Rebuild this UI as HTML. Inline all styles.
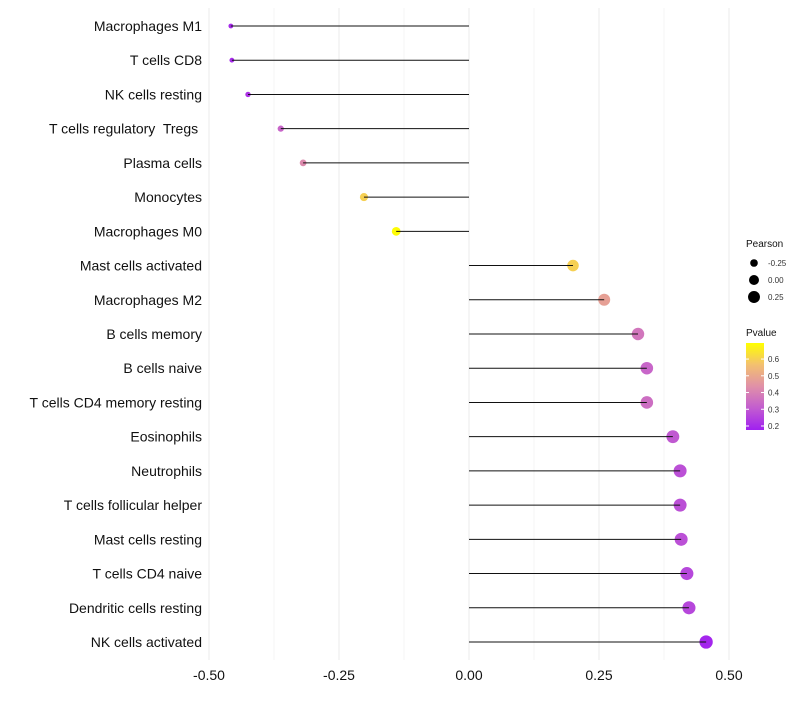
<!DOCTYPE html>
<html><head><meta charset="utf-8"><style>
body{margin:0;background:#fff;font-family:"Liberation Sans",sans-serif}
svg text{font-family:"Liberation Sans",sans-serif;white-space:pre}
</style></head><body>
<svg id="chart" width="800" height="700"></svg>
<script>
const categories=["Macrophages M1","T cells CD8","NK cells resting","T cells regulatory  Tregs ","Plasma cells","Monocytes","Macrophages M0","Mast cells activated","Macrophages M2","B cells memory","B cells naive","T cells CD4 memory resting","Eosinophils","Neutrophils","T cells follicular helper","Mast cells resting","T cells CD4 naive","Dendritic cells resting","NK cells activated"];
const pearson=[-0.458,-0.456,-0.425,-0.362,-0.319,-0.202,-0.140,0.200,0.260,0.325,0.342,0.342,0.392,0.406,0.406,0.408,0.419,0.423,0.456];
const pvalue=[0.2,0.2,0.22,0.33,0.42,0.6,0.69,0.6,0.48,0.37,0.33,0.35,0.3,0.28,0.28,0.28,0.26,0.26,0.19];
const xTicks=[-0.5,-0.25,0,0.25,0.5];
const xTickLabels=["-0.50","-0.25","0.00","0.25","0.50"];
const sizeLegend=[-0.25,0,0.25];
const pLegend=[0.2,0.3,0.4,0.5,0.6];

const NS="http://www.w3.org/2000/svg";
const svg=document.getElementById('chart');
function el(t,a,p){const e=document.createElementNS(NS,t);for(const k in a)e.setAttribute(k,a[k]);(p||svg).appendChild(e);return e;}
const x=v=>469+v*520;
const y=i=>26+i*(642-26)/(categories.length-1);
const r=v=>Math.sqrt(Math.max(1,25+42*v));
const stops=[[0,[160,32,240]],[0.25,[194,92,208]],[0.5,[224,144,168]],[0.75,[243,192,112]],[1,[255,255,0]]];
function col(p){let t=(p-0.176)/(0.696-0.176);t=Math.max(0,Math.min(1,t));
 for(let i=1;i<stops.length;i++){if(t<=stops[i][0]){const a=stops[i-1],b=stops[i];const f=(t-a[0])/(b[0]-a[0]);
 return 'rgb('+a[1].map((c,j)=>Math.round(c+(b[1][j]-c)*f)).join(',')+')';}}return 'rgb(255,255,0)';}

for(let v=-0.5;v<=0.5001;v+=0.125){const g=el('line',{x1:x(v),x2:x(v),y1:8,y2:660,stroke:'#ebebeb','stroke-width':Math.abs((v*4)%1)<0.01?1:0.5});

}
xTicks.forEach((v,i)=>{const t=el('text',{x:x(v),y:680,'text-anchor':'middle','font-size':14,fill:'#111'});t.textContent=xTickLabels[i];

});

categories.forEach((c,i)=>{
 const t=el('text',{x:202,y:y(i)+5,'text-anchor':'end','font-size':14,fill:'#111','xml:space':'preserve'});t.textContent=c;
 
 
 const pt=el('circle',{cx:x(pearson[i]),cy:y(i),r:r(pearson[i]),fill:col(pvalue[i])});
 
 
 const ln=el('line',{x1:x(0),x2:x(pearson[i]),y1:y(i),y2:y(i),stroke:'#111','stroke-width':1});
 
 
});

let lt=el('text',{x:746,y:247,'font-size':10,fill:'#111'});lt.textContent='Pearson';


sizeLegend.forEach((v,i)=>{const cy=263+i*17;
 const c=el('circle',{cx:754,cy:cy,r:r(v),fill:'#000'});
 
 
 const t=el('text',{x:768,y:cy+3,'font-size':8,fill:'#333'});t.textContent=v.toFixed(2);
 
 });
lt=el('text',{x:746,y:336,'font-size':10,fill:'#111'});lt.textContent='Pvalue';


const defs=el('defs',{});const lg=el('linearGradient',{id:'pg',x1:0,y1:1,x2:0,y2:0},defs);
stops.forEach(s=>el('stop',{offset:s[0],'stop-color':'rgb('+s[1].join(',')+')'},lg));
const bar=el('rect',{x:746,y:343,width:18,height:87,fill:'url(#pg)'});


pLegend.forEach(v=>{const yy=430-(v-0.176)/(0.696-0.176)*87;
 el('line',{x1:746,x2:749,y1:yy,y2:yy,stroke:'#fff'});el('line',{x1:761,x2:764,y1:yy,y2:yy,stroke:'#fff'});
 const t=el('text',{x:768,y:yy+3,'font-size':8,fill:'#333'});t.textContent=v.toFixed(1);
 
 });
</script>
</body></html>
